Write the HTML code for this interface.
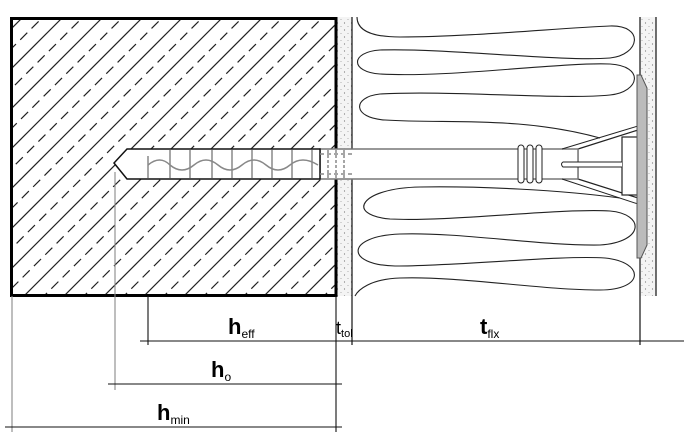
<!DOCTYPE html>
<html><head><style>body{margin:0;background:#fff}svg{display:block}</style></head><body>
<svg width="684" height="438" viewBox="0 0 684 438" xmlns="http://www.w3.org/2000/svg">
<defs>
<clipPath id="c"><rect x="10" y="17" width="326" height="279"/></clipPath>
<pattern id="dots" width="7" height="7" patternUnits="userSpaceOnUse"><rect width="7" height="7" fill="#f4f4f4"/><circle cx="1.5" cy="2" r=".6" fill="#777"/><circle cx="5" cy="5.5" r=".5" fill="#999"/></pattern>
</defs>
<g clip-path="url(#c)" stroke="#222" stroke-width="1.2">
<g id="h">
<line x1="-300" y1="300" x2="0" y2="0"/><line x1="-260" y1="300" x2="40" y2="0"/><line x1="-220" y1="300" x2="80" y2="0"/><line x1="-180" y1="300" x2="120" y2="0"/><line x1="-140" y1="300" x2="160" y2="0"/><line x1="-100" y1="300" x2="200" y2="0"/><line x1="-60" y1="300" x2="240" y2="0"/><line x1="-20" y1="300" x2="280" y2="0"/><line x1="20" y1="300" x2="320" y2="0"/><line x1="60" y1="300" x2="360" y2="0"/><line x1="100" y1="300" x2="400" y2="0"/><line x1="140" y1="300" x2="440" y2="0"/><line x1="180" y1="300" x2="480" y2="0"/><line x1="220" y1="300" x2="520" y2="0"/><line x1="260" y1="300" x2="560" y2="0"/><line x1="300" y1="300" x2="600" y2="0"/><line x1="340" y1="300" x2="640" y2="0"/>
</g>
<g stroke-dasharray="10,6" transform="translate(20,0)"><use href="#h"/></g>
</g>
<rect x="336" y="17" width="16" height="279" fill="url(#dots)"/>
<rect x="640" y="17" width="16" height="279" fill="url(#dots)"/>
<line x1="352" y1="17" x2="352" y2="345" stroke="#111" stroke-width="1.2"/>
<line x1="656" y1="17" x2="656" y2="296" stroke="#111" stroke-width="1.2"/>
<line x1="640" y1="17" x2="640" y2="345" stroke="#111" stroke-width="1.2"/>
<rect x="11.5" y="18.5" width="324.5" height="277" fill="none" stroke="#000" stroke-width="3"/>
<g fill="none" stroke="#222" stroke-width="1.1">
<path d="M357,17 C357,30 370,37 400,37 C470,37 560,28 610,26 C645,25 640,55 610,58 C560,62 450,48 380,50 C350,52 350,72 380,74 C450,78 560,62 610,64 C645,66 640,92 610,95 C560,100 450,90 380,94 C352,97 352,118 385,120 C450,124 520,116 600,138"/>
<path d="M620,198 C560,190 480,186 420,187 C360,188 345,215 390,219 C450,222 560,208 610,211 C645,214 645,242 600,245 C540,246 460,232 400,234 C345,236 345,265 395,266 C460,266 560,255 605,258 C645,262 645,290 600,290 C540,290 460,276 400,278 C370,279 358,290 355,296"/>
</g>
<g fill="#fff" stroke="#222" stroke-width="1.2">
<path d="M578,149 L638,130 L638,198 L578,179 Z" fill="#fff"/>
<rect x="622" y="137" width="16" height="58"/>
<rect x="320" y="149" width="258" height="30" stroke="#777" stroke-width="1.5"/>
<path d="M127,149 L114,163 L127,179 L320,179 L320,149 Z" stroke="#111" stroke-width="1.5"/>
</g>
<g stroke="#888" stroke-width="1.5" fill="none">
<line x1="320" y1="154" x2="352" y2="154" stroke-dasharray="4,3"/><line x1="320" y1="174" x2="352" y2="174" stroke-dasharray="4,3"/>
<path d="M148,165 Q160,155 170,165 Q182,175 194,165 Q206,155 218,165 Q230,175 242,165 Q254,155 266,165 Q278,175 290,165 Q302,155 318,165"/>
<line x1="148" y1="156" x2="148" y2="178"/><line x1="170" y1="150" x2="170" y2="178"/><line x1="190" y1="150" x2="190" y2="178"/><line x1="212" y1="150" x2="212" y2="178"/><line x1="232" y1="150" x2="232" y2="178"/><line x1="252" y1="150" x2="252" y2="178"/><line x1="272" y1="150" x2="272" y2="178"/><line x1="292" y1="150" x2="292" y2="178"/><line x1="312" y1="150" x2="312" y2="178"/>
<line x1="328" y1="150" x2="328" y2="178" stroke-dasharray="3,2"/><line x1="336" y1="150" x2="336" y2="178" stroke-dasharray="3,2"/><line x1="344" y1="150" x2="344" y2="178" stroke-dasharray="3,2"/>
</g>
<g stroke="#222" stroke-width="1" fill="#fff">
<rect x="518" y="145" width="6" height="38" rx="3"/><rect x="527" y="145" width="6" height="38" rx="3"/><rect x="536" y="145" width="6" height="38" rx="3"/>
<path d="M622,162 L563,162 Q560,164 563,167 L622,167"/>
<path d="M562,149 L638,126 M562,179 L638,204"/>
<path d="M637,75 L641,75 L647,88 L647,245 L641,258 L637,258 Z" fill="#bbb" stroke="#555"/>
</g>
<g stroke="#111" stroke-width="1.1">
<line x1="12" y1="296" x2="12" y2="432" stroke="#888"/>
<line x1="115" y1="172" x2="115" y2="390" stroke="#888"/>
<line x1="148" y1="296" x2="148" y2="345"/>
<line x1="336" y1="296" x2="336" y2="432"/>
<line x1="140" y1="341" x2="684" y2="341"/>
<line x1="108" y1="384" x2="342" y2="384"/>
<line x1="5" y1="427" x2="342" y2="427"/>
</g>
<g font-family="Liberation Sans, sans-serif" fill="#000">
<text x="228" y="334" font-size="22" font-weight="bold">h<tspan font-size="12" font-weight="normal" dy="4">eff</tspan></text>
<text x="336" y="334" font-size="18">t<tspan font-size="11" dy="3">tol</tspan></text>
<text x="480" y="334" font-size="22" font-weight="bold">t<tspan font-size="12" font-weight="normal" dy="4">flx</tspan></text>
<text x="211" y="377" font-size="22" font-weight="bold">h<tspan font-size="12" font-weight="normal" dy="4">o</tspan></text>
<text x="157" y="420" font-size="22" font-weight="bold">h<tspan font-size="12" font-weight="normal" dy="4">min</tspan></text>
</g>
</svg>
</body></html>
